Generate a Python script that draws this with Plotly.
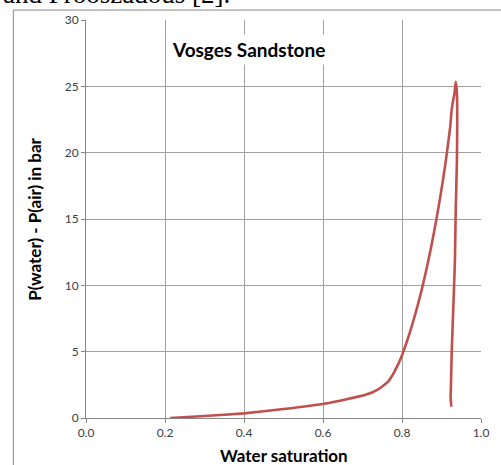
import plotly.graph_objects as go

# Capillary pressure curve, Vosges sandstone: drainage branch then return branch
saturation = [0.213, 0.30, 0.40, 0.50, 0.607, 0.657, 0.706, 0.740, 0.765, 0.771,
              0.7785, 0.7895, 0.797, 0.8035, 0.815, 0.8255, 0.8352, 0.8442,
              0.8525, 0.8603, 0.8676, 0.8745, 0.881, 0.8872, 0.8931, 0.8987,
              0.904, 0.909, 0.9137, 0.9181, 0.9222, 0.925, 0.9275, 0.933, 0.936,
              0.939, 0.939, 0.936, 0.934, 0.930, 0.926, 0.924, 0.923, 0.925]
pressure = [0.0, 0.15, 0.35, 0.68, 1.1, 1.4, 1.73, 2.16, 2.74, 3.0,
            3.37, 4.0, 4.5, 5.0, 6.0, 7.0, 8.0, 9.0,
            10.0, 11.0, 12.0, 13.0, 14.0, 15.0, 16.0, 17.0,
            18.0, 19.0, 20.0, 21.0, 22.0, 23.0, 23.6, 24.5, 25.35,
            24.5, 19.4, 15.7, 11.9, 8.4, 5.1, 2.6, 1.5, 0.85]

x_ticks = [0.0, 0.2, 0.4, 0.6, 0.8, 1.0]
x_tick_text = ["0.0", "0.2", "0.4", "0.6", "0.8", "1.0"]
y_ticks = [0, 5, 10, 15, 20, 25, 30]

title_text = "Vosges Sandstone"
x_title = "Water saturation"
y_title = "P(water) - P(air) in bar"
caption_text = "and Prooszadous [2]."

FONT = "Lato, 'Open Sans', sans-serif"
GRID = "#A0A0A0"
AXIS = "#868686"

fig = go.Figure()
fig.add_trace(go.Scatter(
    x=saturation, y=pressure, mode="lines",
    line=dict(color="#C0504D", width=2.6, shape="spline", smoothing=0.4),
    showlegend=False, hoverinfo="skip",
))

fig.update_layout(
    width=501, height=465,
    margin=dict(l=86, r=13, t=20, b=47),
    paper_bgcolor="white", plot_bgcolor="white",
    font=dict(family=FONT, size=12, color="#404040"),
    xaxis=dict(
        range=[0, 1], tickvals=x_ticks, ticktext=x_tick_text,
        showgrid=True, gridcolor=GRID, gridwidth=1,
        showline=True, linecolor=AXIS, linewidth=1,
        ticks="outside", ticklen=4, tickcolor=AXIS,
        zeroline=False, mirror=False, fixedrange=True,
        tickfont=dict(size=12, color="#404040"),
    ),
    yaxis=dict(
        range=[0, 30], tickvals=y_ticks,
        showgrid=True, gridcolor=GRID, gridwidth=1,
        showline=True, linecolor=AXIS, linewidth=1,
        ticks="outside", ticklen=4, tickcolor=AXIS,
        zeroline=False, fixedrange=True,
        tickfont=dict(size=12, color="#404040"),
    ),
)

# chart-area frame (left and top edges)
fig.add_shape(type="line", xref="paper", yref="paper",
              x0=-0.184, x1=-0.184, y0=-0.2, y1=1.025,
              line=dict(color=AXIS, width=1))
fig.add_shape(type="line", xref="paper", yref="paper",
              x0=-0.184, x1=1.1, y0=1.025, y1=1.025,
              line=dict(color=AXIS, width=1))

# chart title inside the plot with a white box over the grid
fig.add_annotation(
    text=f"<b>{title_text}</b>", xref="paper", yref="paper",
    x=0.412, y=0.925, xanchor="center", yanchor="middle",
    showarrow=False, bgcolor="white", borderpad=3,
    font=dict(family=FONT, size=19, color="#000000"),
)

# axis titles
fig.add_annotation(
    text=f"<b>{x_title}</b>", xref="paper", yref="paper",
    x=0.5, y=-0.093, xanchor="center", yanchor="middle",
    showarrow=False, font=dict(family=FONT, size=17, color="#000000"),
)
fig.add_annotation(
    text=f"<b>{y_title}</b>", xref="paper", yref="paper",
    x=-0.132, y=0.5, xanchor="center", yanchor="middle", textangle=-90,
    showarrow=False, font=dict(family=FONT, size=17, color="#000000"),
)

# running text of the page above the chart
fig.add_annotation(
    text=caption_text, xref="paper", yref="paper",
    x=-0.215, y=1.023, xanchor="left", yanchor="bottom",
    showarrow=False, font=dict(family="'Liberation Serif', serif", size=27, color="#000000"),
)

fig.write_html("out.html")
